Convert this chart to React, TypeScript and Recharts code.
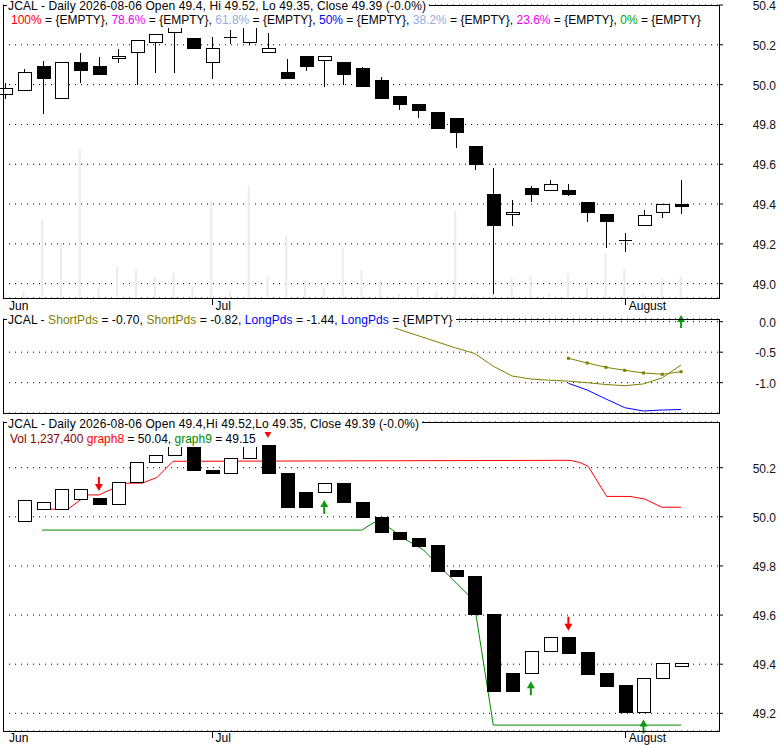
import { Bar, CartesianGrid, ComposedChart, Line, XAxis, YAxis } from "recharts";

const FONT = '"Liberation Sans", Arial, sans-serif';
const RED = "#ff0000";
const GREEN = "#119911";
const OLIVE = "#808000";
const BLUE = "#0000ff";

// trading days Jun 15 .. Aug 6 2026, plotted at positions 1..37
const opens = [49.95, 49.97, 50.09, 49.93, 50.11, 50.09, 50.13, 50.16, 50.21, 50.26, 50.23, 50.11, 50.235, 50.21, 50.16, 50.06, 50.14, 50.12, 50.11, 50.08, 50.02, 49.94, 49.9, 49.86, 49.83, 49.69, 49.45, 49.35, 49.48, 49.47, 49.47, 49.41, 49.35, 49.215, 49.29, 49.36, 49.4];
const highs = [50.01, 50.08, 50.12, 50.11, 50.16, 50.14, 50.18, 50.22, 50.25, 50.31, 50.23, 50.24, 50.275, 50.33, 50.26, 50.13, 50.14, 50.14, 50.11, 50.09, 50.04, 49.94, 49.9, 49.86, 49.83, 49.69, 49.58, 49.42, 49.49, 49.52, 49.5, 49.41, 49.35, 49.255, 49.37, 49.4, 49.52];
const lows = [49.93, 49.97, 49.85, 49.93, 50.01, 50.05, 50.11, 50.0, 50.06, 50.06, 50.18, 50.03, 50.205, 50.2, 50.16, 50.03, 50.07, 49.99, 50.0, 49.99, 49.93, 49.87, 49.83, 49.78, 49.68, 49.57, 48.95, 49.29, 49.41, 49.47, 49.44, 49.31, 49.18, 49.16, 49.29, 49.33, 49.35];
const closes = [49.98, 50.06, 50.03, 50.11, 50.07, 50.05, 50.14, 50.22, 50.25, 50.31, 50.18, 50.18, 50.235, 50.33, 50.18, 50.03, 50.09, 50.14, 50.05, 49.99, 49.93, 49.9, 49.87, 49.78, 49.76, 49.6, 49.29, 49.36, 49.45, 49.5, 49.45, 49.36, 49.31, 49.21, 49.34, 49.4, 49.39];
// volume in thousands
const volumes = [250, 380, 4600, 3220, 8780, 600, 1850, 1670, 1250, 1490, 660, 5730, 420, 6630, 1250, 3700, 1010, 600, 2930, 1610, 1010, 240, 660, 360, 5130, 180, 470, 1190, 1310, 240, 1430, 600, 2630, 1730, 240, 1190, 1237];

// lower panel bodies, from day 2
const haOpen = [49.98, 50.03, 50.03, 50.07, 50.073, 50.05, 50.14, 50.22, 50.25, 50.29, 50.19, 50.178, 50.239, 50.289, 50.178, 50.1, 50.1, 50.137, 50.06, 49.997, 49.938, 49.911, 49.882, 49.78, 49.759, 49.602, 49.362, 49.361, 49.45, 49.507, 49.446, 49.361, 49.312, 49.204, 49.34, 49.39];
const haClose = [50.065, 50.06, 50.11, 50.11, 50.049, 50.14, 50.22, 50.25, 50.33, 50.19, 50.178, 50.239, 50.289, 50.178, 50.038, 50.038, 50.137, 50.058, 49.997, 49.938, 49.908, 49.879, 49.778, 49.757, 49.603, 49.29, 49.29, 49.451, 49.507, 49.444, 49.359, 49.31, 49.204, 49.34, 49.401, 49.401];

const graph8X = [3.4, 4.35, 5.37, 6.0, 7.39, 8.29, 9.09, 9.95, 31.09, 31.62, 32.06, 33.04, 34.28, 35.08, 35.97, 37.0];
const graph8Y = [50.031, 50.031, 50.089, 50.089, 50.137, 50.137, 50.16, 50.226, 50.23, 50.221, 50.205, 50.083, 50.083, 50.072, 50.039, 50.039];
const graph9X = [2.97, 20.0, 20.65, 21.5, 22.21, 23.27, 24.16, 24.87, 25.67, 26.08, 27.0, 37.0];
const graph9Y = [49.946, 49.946, 49.977, 49.954, 49.913, 49.866, 49.797, 49.743, 49.682, 49.601, 49.152, 49.152];

const signalIdx = [6, 15, 18, 29, 31, 35];
const signalPrice = [50.105, 50.321, 50.068, 49.331, 49.536, 49.175];
const signalDir = ["down", "down", "up", "up", "down", "up"];

// indicator panel, days 21..37
const MID_START = 21;
const shortA = [-0.02, -0.13, -0.23, -0.33, -0.43, -0.52, -0.73, -0.89, -0.94, -0.96, -0.975, -1.0, -1.03, -1.05, -1.02, -0.92, -0.71];
const shortB = [null, null, null, null, null, null, null, null, null, null, -0.6, -0.677, -0.748, -0.797, -0.84, -0.862, -0.82];
const longA = [null, null, null, null, null, null, null, null, null, null, -1.01, -1.12, -1.267, -1.41, -1.464, -1.448, -1.44];
const midSignals = [{ idx: 37, v: -0.103, dir: "upTail" }];

const monthTicks = [1, 12, 34];
const monthLabels = ["Jun", "Jul", "August"];
const topTicks = [49.0, 49.2, 49.4, 49.6, 49.8, 50.0, 50.2, 50.4];
const midTicks = [-1.0, -0.5, 0.0];
const lowTicks = [49.2, 49.4, 49.6, 49.8, 50.0, 50.2];

const X_DOMAIN: [number, number] = [0.894, 39.02];

const candles = opens.map((open, i) => ({
  idx: i + 1,
  open,
  high: highs[i],
  low: lows[i],
  close: closes[i],
  range: [lows[i], highs[i]],
  vol: volumes[i],
}));

const haData = haOpen.map((open, i) => ({
  idx: i + 2,
  open,
  close: haClose[i],
  range: [Math.min(open, haClose[i]), Math.max(open, haClose[i])],
}));

const graph8 = graph8X.map((idx, i) => ({ idx, v: graph8Y[i] }));
const graph9 = graph9X.map((idx, i) => ({ idx, v: graph9Y[i] }));
const signals = signalIdx.map((idx, i) => ({ idx, v: signalPrice[i], dir: signalDir[i] }));

const midData = shortA.map((a, i) => ({
  idx: MID_START + i,
  a,
  b: shortB[i],
  l: longA[i],
}));

function Candle(props: any) {
  const { x, y, width, height, payload } = props;
  if (x == null || y == null) return null;
  const { open, close, high, low } = payload;
  const cx = Math.round(x + width / 2) + 0.5;
  const k = height / (high - low || 1);
  const py = (v: number) => y + (high - v) * k;
  const top = py(Math.max(open, close));
  const bot = py(Math.min(open, close));
  const up = close >= open;
  return (
    <g shapeRendering="crispEdges">
      <line x1={cx} x2={cx} y1={y} y2={y + height} stroke="#000" />
      {bot - top < 1 ? (
        <line x1={cx - 6.5} x2={cx + 6.5} y1={top} y2={top} stroke="#000" />
      ) : (
        <rect
          x={cx - 6.5}
          y={top}
          width={13}
          height={bot - top}
          fill={up ? "#fff" : "#000"}
          stroke="#000"
        />
      )}
    </g>
  );
}

function HaBody(props: any) {
  const { x, y, width, height, payload } = props;
  if (x == null || y == null) return null;
  const cx = Math.round(x + width / 2) + 0.5;
  const up = payload.close >= payload.open;
  return (
    <rect
      x={cx - 6.5}
      y={y}
      width={13}
      height={Math.max(height, 1)}
      fill={up ? "#fff" : "#000"}
      stroke="#000"
      shapeRendering="crispEdges"
    />
  );
}

function arrowDot(props: any) {
  const { cx, cy, payload, index } = props;
  if (cx == null || cy == null) return <g key={index} />;
  let pts: number[][];
  if (payload.dir === "down") {
    pts = [[0, 0], [-4, -7], [-1, -7], [-1, -14], [1, -14], [1, -7], [4, -7]];
  } else if (payload.dir === "up") {
    pts = [[0, 0], [-4, 7], [-1, 7], [-1, 14], [1, 14], [1, 7], [4, 7]];
  } else {
    pts = [[0, -13], [-4, -6], [-1, -6], [-1, 0], [1, 0], [1, -6], [4, -6]];
  }
  return (
    <polygon
      key={index}
      points={pts.map(([dx, dy]) => `${cx + dx},${cy + dy}`).join(" ")}
      fill={payload.dir === "down" ? RED : GREEN}
    />
  );
}

function squareDot(props: any) {
  const { cx, cy, index } = props;
  if (cx == null || cy == null) return <g key={index} />;
  return <rect key={index} x={cx - 1.5} y={cy - 1.5} width={3} height={3} fill={OLIVE} />;
}

const priceTick = (props: any) => {
  const { y, payload } = props;
  return (
    <text x={776} y={y} dy={5} textAnchor="end" fontSize={12} fontFamily={FONT} fill="#111">
      {Number(payload.value).toFixed(1)}
    </text>
  );
};

const monthTick = (baseline: number) => (props: any) => {
  const { x, y, payload } = props;
  const label = monthLabels[monthTicks.indexOf(payload.value)];
  return (
    <g>
      {payload.value !== 1 && (
        <line x1={Math.round(x) + 0.5} x2={Math.round(x) + 0.5} y1={y} y2={y + 7} stroke="#000" shapeRendering="crispEdges" />
      )}
      <text x={x + 4} y={y + baseline} fontSize={12} fontFamily={FONT} fill="#000">
        {label}
      </text>
    </g>
  );
};

const gridProps = { vertical: false, stroke: "#000", strokeDasharray: "1 5" };
const yAxisProps = {
  orientation: "right" as const,
  type: "number" as const,
  width: 56,
  tickSize: 4,
  axisLine: false,
  tickLine: { stroke: "#000" },
  interval: 0 as const,
  tick: priceTick,
};

const legendStyle: React.CSSProperties = {
  position: "absolute",
  background: "#fff",
  whiteSpace: "nowrap",
  font: `12px ${FONT}`,
  lineHeight: "15px",
  color: "#000",
  paddingLeft: 1,
  paddingRight: 3,
};

function Frame({ top, height }: { top: number; height: number }) {
  return (
    <div
      style={{
        position: "absolute",
        left: 3,
        top,
        width: 717,
        height,
        boxSizing: "border-box",
        border: "1px solid #000",
      }}
    />
  );
}

const EMPTY = "{EMPTY}";

export default function App() {
  return (
    <div style={{ position: "absolute", left: 0, top: 0, width: 780, height: 745, background: "#fff", overflow: "hidden" }}>
      <div style={{ position: "absolute", left: 0, top: 0 }}>
        <ComposedChart width={780} height={318} data={candles} margin={{ top: 5, right: 5, bottom: 0, left: 3 }}>
          <CartesianGrid {...gridProps} />
          <XAxis
            dataKey="idx"
            type="number"
            domain={X_DOMAIN}
            ticks={monthTicks}
            interval={0}
            height={20}
            tickSize={0}
            tickMargin={0}
            axisLine={false}
            tickLine={false}
            tick={monthTick(12)}
          />
          <XAxis xAxisId="vol" dataKey="idx" type="number" domain={X_DOMAIN} hide />
          <YAxis {...yAxisProps} domain={[48.928, 50.4]} ticks={topTicks} />
          <YAxis yAxisId="vol" type="number" domain={[0, 17260]} hide />
          <Bar xAxisId="vol" yAxisId="vol" dataKey="vol" fill="#ebebeb" barSize={2} isAnimationActive={false} zIndex={250} />
          <Bar dataKey="range" barSize={13} shape={(p: any) => <Candle {...p} />} isAnimationActive={false} zIndex={300} />
        </ComposedChart>
      </div>

      <div style={{ position: "absolute", left: 0, top: 300 }}>
        <ComposedChart width={780} height={114} data={midData} margin={{ top: 19, right: 5, bottom: 1, left: 3 }}>
          <CartesianGrid {...gridProps} />
          <XAxis dataKey="idx" type="number" domain={X_DOMAIN} hide />
          <YAxis {...yAxisProps} domain={[-1.497, 0.044]} ticks={midTicks} />
          <Line dataKey="a" stroke={OLIVE} strokeWidth={1} dot={false} activeDot={false} isAnimationActive={false} />
          <Line dataKey="b" stroke={OLIVE} strokeWidth={1} dot={squareDot} activeDot={false} isAnimationActive={false} />
          <Line dataKey="l" stroke={BLUE} strokeWidth={1} dot={false} activeDot={false} isAnimationActive={false} />
          <Line data={midSignals} dataKey="v" stroke="none" dot={arrowDot} activeDot={false} isAnimationActive={false} />
        </ComposedChart>
      </div>

      <div style={{ position: "absolute", left: 0, top: 400 }}>
        <ComposedChart width={780} height={345} data={haData} margin={{ top: 22, right: 5, bottom: 0, left: 3 }}>
          <CartesianGrid {...gridProps} />
          <XAxis
            dataKey="idx"
            type="number"
            domain={X_DOMAIN}
            ticks={monthTicks}
            interval={0}
            height={14}
            tickSize={0}
            tickMargin={0}
            axisLine={false}
            tickLine={false}
            tick={monthTick(11)}
          />
          <YAxis {...yAxisProps} domain={[49.128, 50.386]} ticks={lowTicks} />
          <Line data={graph8} dataKey="v" stroke={RED} strokeWidth={1} dot={false} activeDot={false} isAnimationActive={false} zIndex={200} />
          <Line data={graph9} dataKey="v" stroke="#008800" strokeWidth={1} dot={false} activeDot={false} isAnimationActive={false} zIndex={200} />
          <Bar dataKey="range" barSize={13} shape={(p: any) => <HaBody {...p} />} isAnimationActive={false} zIndex={450} />
          <Line data={signals} dataKey="v" stroke="none" dot={arrowDot} activeDot={false} isAnimationActive={false} zIndex={600} />
        </ComposedChart>
      </div>

      <Frame top={5} height={294} />
      <Frame top={319} height={95} />
      <Frame top={422} height={310} />

      <div style={{ ...legendStyle, left: 7, top: 0, lineHeight: "13px", letterSpacing: 0.13 }}>
        JCAL - Daily 2026-08-06 Open 49.4, Hi 49.52, Lo 49.35, Close 49.39 (-0.0%)
      </div>
      <div style={{ ...legendStyle, left: 10, top: 13.3 }}>
        <span style={{ color: RED }}>100%</span> = {EMPTY},{" "}
        <span style={{ color: "#f000f0" }}>78.6%</span> = {EMPTY},{" "}
        <span style={{ color: "#99aadd" }}>61.8%</span> = {EMPTY},{" "}
        <span style={{ color: BLUE }}>50%</span> = {EMPTY},{" "}
        <span style={{ color: "#99aadd" }}>38.2%</span> = {EMPTY},{" "}
        <span style={{ color: "#f000f0" }}>23.6%</span> = {EMPTY},{" "}
        <span style={{ color: "#00a000" }}>0%</span> = {EMPTY}
      </div>

      <div style={{ ...legendStyle, left: 7, top: 313.3, letterSpacing: 0.07 }}>
        JCAL - <span style={{ color: OLIVE }}>ShortPds</span> = -0.70,{" "}
        <span style={{ color: OLIVE }}>ShortPds</span> = -0.82,{" "}
        <span style={{ color: BLUE }}>LongPds</span> = -1.44,{" "}
        <span style={{ color: BLUE }}>LongPds</span> = {EMPTY}
      </div>

      <div style={{ ...legendStyle, left: 7, top: 416.8, letterSpacing: 0.13 }}>
        JCAL - Daily 2026-08-06 Open 49.4,Hi 49.52,Lo 49.35, Close 49.39 (-0.0%)
      </div>
      <div style={{ ...legendStyle, left: 9, top: 431.8 }}>
        <span style={{ color: "#8b0000" }}>Vol 1,237,400</span>{" "}
        <span style={{ color: RED }}>graph8</span> = 50.04,{" "}
        <span style={{ color: "#008800" }}>graph9</span> = 49.15
      </div>
    </div>
  );
}
